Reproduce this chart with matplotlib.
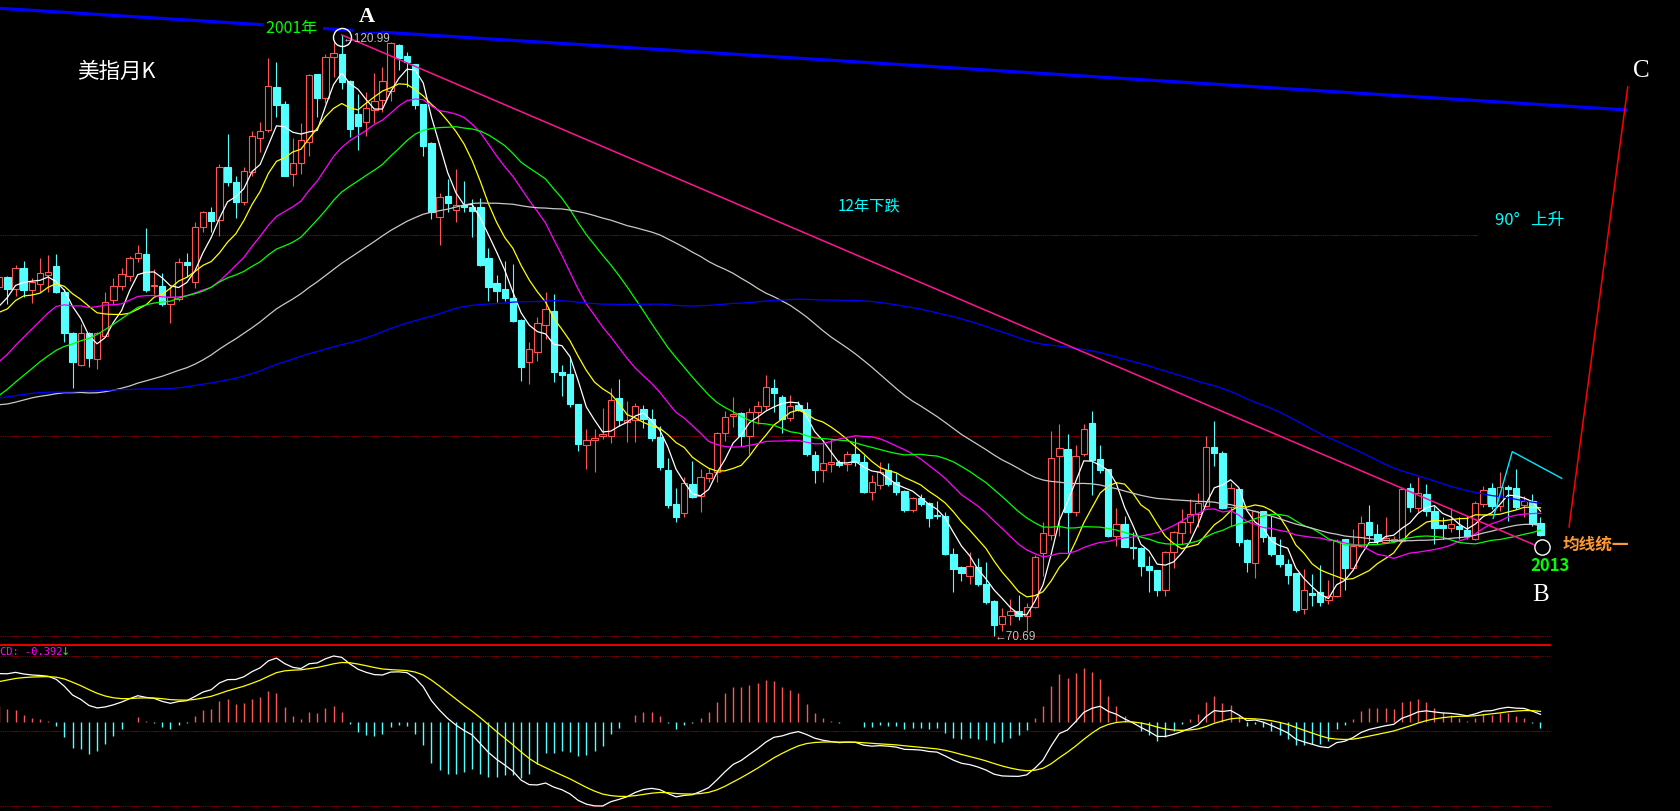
import numpy as np
import pandas as pd
import matplotlib
matplotlib.use("Agg")
import matplotlib.pyplot as plt
from matplotlib.transforms import blended_transform_factory

W, H = 1681, 812

# ---- data -------------------------------------------------------------
# monthly closes before the visible window (warm-up for MA / MACD), 1988-1997
pre_close = [
    90.5, 89.6, 88.2, 88.0, 89.7, 93.5, 97.6, 97.9, 96.0, 92.6, 89.4, 92.1,
    94.0, 93.2, 96.1, 96.8, 101.5, 100.2, 96.4, 99.8, 97.5, 95.8, 94.6, 91.9,
    92.0, 92.3, 94.6, 93.5, 92.6, 91.7, 87.8, 87.5, 86.9, 82.6, 82.4, 83.9,
    81.7, 84.8, 92.4, 93.6, 94.4, 97.2, 95.3, 93.7, 89.9, 89.6, 86.2, 84.2,
    88.2, 90.6, 92.8, 91.3, 88.1, 85.0, 81.3, 79.3, 81.6, 88.4, 93.5, 93.9,
    94.2, 96.0, 92.4, 88.9, 89.6, 93.2, 95.4, 92.0, 90.9, 93.8, 95.0, 96.4,
    95.1, 93.2, 92.4, 91.0, 91.3, 88.1, 88.5, 88.3, 86.9, 84.5, 87.2, 88.6,
    87.0, 84.6, 80.6, 80.8, 82.2, 81.9, 82.1, 84.6, 83.5, 82.9, 83.3, 83.8,
    86.2, 85.4, 86.3, 87.5, 88.2, 88.0, 86.2, 86.0, 86.9, 87.4, 87.6, 88.6,
    93.4, 95.6, 95.8, 96.9, 94.5, 95.8, 99.6, 99.5, 96.2, 96.4, 98.4, 99.8,
]

opens = [
    99.90, 100.74, 99.73, 101.49, 99.67, 100.15, 100.90, 101.66, 99.48, 96.05,
    93.37, 96.05, 93.87, 95.80, 98.81, 99.98, 100.82, 102.33, 102.66, 99.96,
    99.98, 98.47, 98.90, 102.00, 100.32, 104.92, 106.18, 105.50, 109.94, 108.69,
    107.00, 109.52, 112.37, 113.04, 116.64, 115.21, 109.36, 110.28, 112.00, 117.72,
    115.69, 119.12, 119.40, 117.16, 114.38, 113.68, 114.71, 115.57, 116.33, 120.18,
    119.26, 118.56, 115.21, 111.95, 105.73, 107.54, 106.37, 106.79, 106.57, 106.57,
    102.33, 100.23, 99.73, 98.95, 97.16, 93.65, 94.43, 96.75, 97.87, 92.76,
    92.63, 90.11, 86.68, 87.07, 87.43, 87.46, 90.64, 88.58, 88.80, 89.70,
    88.86, 87.32, 84.55, 81.74, 80.96, 83.41, 82.44, 83.92, 84.39, 87.68,
    89.08, 89.36, 87.46, 89.41, 89.97, 91.45, 90.67, 88.91, 90.03, 89.69,
    85.84, 84.55, 85.06, 85.23, 85.09, 85.92, 85.23, 82.77, 83.36, 84.61,
    83.56, 82.85, 81.24, 82.24, 81.80, 80.85, 80.76, 77.56, 76.44, 75.74,
    76.44, 75.05, 73.65, 71.70, 72.46, 72.76, 72.35, 73.10, 77.61, 79.15,
    85.73, 86.34, 81.05, 85.92, 88.52, 85.51, 84.67, 79.04, 80.07, 78.12,
    78.04, 76.53, 76.22, 74.57, 77.75, 79.32, 80.21, 80.91, 81.55, 86.54,
    86.01, 81.46, 82.99, 78.74, 76.78, 81.13, 78.96, 77.47, 76.72, 75.97,
    72.95, 74.29, 74.40, 73.73, 74.02, 78.81, 76.36, 78.25, 80.21, 79.24,
    78.59, 78.67, 78.67, 83.08, 81.41, 82.58, 81.18, 79.98, 79.73, 79.93,
    79.57, 78.81, 81.74, 83.05, 81.60, 83.14, 83.05, 81.69, 82.02, 80.15,
]
highs = [
    100.90, 100.85, 101.70, 102.10, 100.65, 102.30, 102.60, 102.66, 99.73, 96.13,
    96.80, 96.13, 96.13, 99.48, 100.65, 101.49, 102.50, 103.41, 104.84, 101.40,
    101.07, 99.98, 102.33, 102.74, 105.34, 106.26, 106.59, 110.19, 112.70, 109.19,
    109.94, 112.95, 113.70, 119.06, 118.70, 115.46, 112.34, 113.60, 117.70, 117.75,
    119.40, 120.38, 120.99, 117.20, 116.05, 116.19, 117.80, 118.28, 120.43, 120.20,
    119.59, 118.60, 115.25, 112.00, 107.74, 108.94, 109.77, 108.80, 107.26, 107.32,
    103.14, 100.90, 102.10, 101.82, 97.20, 95.27, 97.36, 99.46, 99.31, 93.37,
    94.00, 90.15, 88.02, 88.02, 89.75, 91.42, 92.20, 90.39, 90.20, 90.03,
    89.69, 88.29, 85.56, 83.05, 83.97, 85.36, 84.67, 84.73, 87.79, 89.50,
    90.67, 89.40, 89.75, 90.39, 92.56, 92.20, 90.86, 90.86, 90.39, 90.30,
    86.20, 86.90, 87.18, 85.42, 86.20, 87.24, 85.84, 84.17, 85.23, 85.17,
    84.34, 82.90, 82.30, 82.58, 81.88, 82.02, 81.05, 78.03, 76.53, 77.75,
    77.20, 76.91, 73.70, 73.01, 73.79, 74.13, 73.46, 77.47, 80.21, 87.87,
    88.44, 87.60, 86.68, 88.44, 89.55, 86.70, 84.70, 81.38, 80.76, 79.37,
    78.12, 77.41, 76.24, 77.83, 79.46, 81.32, 82.16, 82.66, 87.40, 88.66,
    86.20, 83.50, 83.05, 78.78, 81.26, 81.15, 80.76, 78.81, 77.14, 76.00,
    76.30, 75.88, 76.64, 75.38, 78.81, 78.85, 79.65, 80.71, 81.66, 80.07,
    80.63, 79.09, 83.14, 83.50, 83.97, 83.41, 81.55, 80.63, 81.38, 80.63,
    80.71, 82.02, 83.27, 83.47, 84.44, 83.33, 84.67, 82.44, 82.58, 80.63,
]
lows = [
    99.70, 98.47, 99.17, 99.06, 98.56, 99.50, 99.50, 99.40, 95.30, 91.45,
    93.30, 93.20, 93.04, 95.80, 98.39, 99.65, 100.40, 102.00, 99.48, 99.30,
    98.31, 96.90, 98.73, 100.74, 99.82, 104.50, 104.50, 104.17, 108.35, 105.67,
    106.76, 109.20, 111.20, 112.87, 114.13, 109.16, 108.33, 109.36, 110.90, 114.10,
    115.27, 117.45, 116.47, 112.43, 111.40, 112.51, 113.62, 114.52, 115.49, 118.08,
    116.61, 114.80, 110.84, 105.59, 103.44, 106.15, 105.36, 106.18, 104.06, 101.68,
    98.75, 98.62, 98.75, 97.00, 92.06, 91.78, 93.73, 95.55, 91.97, 90.80,
    89.83, 86.20, 84.67, 84.44, 87.18, 86.85, 88.29, 86.90, 86.90, 88.08,
    87.04, 84.61, 81.38, 80.26, 80.63, 82.22, 81.10, 83.56, 83.61, 87.04,
    88.16, 86.57, 85.92, 88.44, 89.63, 89.41, 87.68, 88.71, 89.55, 85.73,
    83.47, 83.61, 84.39, 84.81, 84.53, 84.95, 82.66, 82.10, 82.99, 83.22,
    82.52, 81.10, 81.10, 81.60, 79.79, 80.50, 77.50, 74.35, 75.32, 75.05,
    74.85, 73.37, 70.69, 71.14, 71.61, 72.06, 71.14, 73.01, 75.74, 78.75,
    79.09, 77.64, 80.71, 85.73, 82.52, 84.34, 78.95, 78.20, 78.14, 77.14,
    75.69, 74.35, 74.02, 74.07, 76.39, 78.39, 79.32, 79.79, 81.46, 84.90,
    81.32, 79.93, 78.25, 76.03, 75.52, 78.59, 77.41, 76.44, 75.05, 72.68,
    72.54, 73.23, 73.23, 73.37, 74.00, 74.57, 76.24, 78.12, 78.67, 78.39,
    78.48, 78.54, 78.54, 81.10, 81.05, 80.76, 78.39, 78.81, 79.37, 78.81,
    78.81, 78.75, 81.46, 81.32, 81.18, 80.34, 81.32, 80.63, 79.87, 79.04,
]
closes = [
    100.74, 99.73, 101.49, 99.65, 100.34, 101.07, 101.15, 99.48, 96.05, 93.62,
    96.05, 93.96, 96.05, 98.64, 99.98, 100.99, 102.33, 102.74, 99.65, 100.09,
    98.47, 99.06, 102.00, 101.74, 104.92, 106.18, 105.42, 109.94, 108.69, 107.00,
    109.60, 112.54, 112.95, 116.72, 115.13, 109.19, 110.25, 112.20, 117.64, 115.72,
    119.17, 119.46, 117.08, 113.12, 113.40, 114.85, 115.49, 117.11, 120.29, 119.04,
    118.70, 115.15, 111.67, 106.15, 107.41, 106.93, 106.79, 106.57, 106.29, 101.77,
    99.87, 99.59, 98.98, 97.08, 93.18, 94.71, 96.86, 98.06, 92.76, 92.56,
    90.11, 86.76, 87.10, 87.30, 87.57, 90.47, 88.80, 88.78, 89.92, 88.86,
    87.24, 84.81, 81.66, 80.68, 83.47, 82.35, 83.97, 84.34, 87.66, 88.99,
    89.27, 87.40, 89.41, 89.97, 91.50, 91.03, 88.86, 89.97, 89.63, 85.92,
    84.61, 85.15, 85.23, 85.00, 85.92, 85.23, 82.77, 83.61, 84.44, 83.41,
    82.77, 81.24, 82.24, 81.74, 80.57, 80.71, 77.56, 76.30, 75.97, 76.53,
    75.05, 73.56, 71.61, 72.40, 72.76, 72.35, 73.15, 77.33, 79.30, 85.56,
    86.40, 81.05, 85.73, 88.02, 85.42, 84.61, 79.04, 80.07, 78.17, 78.04,
    76.53, 76.24, 74.57, 77.75, 79.37, 80.21, 80.91, 81.82, 86.54, 86.01,
    81.41, 83.05, 78.59, 76.91, 81.18, 78.96, 77.56, 76.72, 75.80, 72.90,
    74.54, 74.13, 73.56, 74.02, 78.67, 76.36, 78.25, 80.15, 79.15, 78.67,
    78.88, 78.81, 83.00, 81.46, 82.66, 81.18, 79.73, 79.73, 80.07, 79.65,
    79.04, 81.82, 82.91, 81.55, 83.14, 83.00, 81.52, 81.97, 80.07, 79.15,
]

ma_periods = [5, 10, 20, 30, 60, 120]
ma_colors = ["#ffffff", "#ffff00", "#ff00ff", "#00ff00", "#c8c8c8", "#0000ff"]

peak_idx, peak_val = 42, 120.99          # A
trough_idx, trough_val = 122, 70.69      # low
b_point = (189.2, 78.17)                 # B
ab_end = (188.5, 78.25)
blue_line_x, blue_line_y = [0.1, 199.7], [123.22, 114.71]
red_line_x, red_line_y = [192.5, 199.7], [79.82, 116.64]
cyan_line_x, cyan_line_y = [183.2, 185.54, 191.6], [80.54, 86.12, 83.89]
macd_label = "CD: -0.392"

# ---- derived -----------------------------------------------------------
n = len(closes)
npre = len(pre_close)
idx = np.arange(n)
allc = pd.Series(pre_close + closes, dtype=float)
mas = [allc.rolling(p, min_periods=1).mean().values[npre:] for p in ma_periods]
ema12 = allc.ewm(span=12, adjust=False).mean()
ema26 = allc.ewm(span=26, adjust=False).mean()
dif = (ema12 - ema26).values
dea = pd.Series(dif).ewm(span=9, adjust=False).mean().values
hist = 2 * (dif - dea)
dif, dea, hist = dif[npre:], dea[npre:], hist[npre:]

o = np.array(opens); h = np.array(highs); l = np.array(lows); c = np.array(closes)
up = c >= o

# ---- geometry ----------------------------------------------------------
X0, XS = -0.8, 8.155            # px position of candle 0, px per candle
PY0, PYS = 124.0, 11.95          # price at fig top, px per price unit
MAIN_BOT = 644
xlim = ((0 - X0) / XS, (W - X0) / XS)
x_end = n + 0.2

RED = "#ff5454"
CYAN = "#54ffff"
GRID = "#8a0000"
CJK = ["Noto Sans CJK SC", "DejaVu Sans"]

fig = plt.figure(figsize=(W / 100, H / 100), dpi=100, facecolor="black")
ax = fig.add_axes([0, 1 - MAIN_BOT / H, 1, MAIN_BOT / H])
ax2 = fig.add_axes([0, 0, 1, (H - 645) / H])
for a in (ax, ax2):
    a.set_facecolor("black")
    a.set_xlim(*xlim)
    a.axis("off")
ax.set_ylim(PY0 - MAIN_BOT / PYS, PY0)

# grid lines (thirds of the price range)
lo, hi = trough_val, peak_val
levels = [lo + k * (hi - lo) / 3 for k in range(3)]
ax.hlines(levels, xlim[0], x_end, colors=GRID, linestyles=(0, (1, 1)), lw=0.8, zorder=0)

# candles
ax.vlines(idx[up], l[up], h[up], colors=RED, lw=0.8, zorder=2)
ax.vlines(idx[~up], l[~up], h[~up], colors=CYAN, lw=0.8, zorder=2)
ax.bar(idx[up], c[up] - o[up], bottom=o[up], width=0.78, facecolor="black",
       edgecolor=RED, linewidth=0.8, zorder=3)
ax.bar(idx[~up], o[~up] - c[~up], bottom=c[~up], width=0.78, facecolor=CYAN,
       edgecolor=CYAN, linewidth=0.8, zorder=3)

# moving averages
for m, col in zip(mas, ma_colors):
    ax.plot(idx, m, color=col, lw=0.9, zorder=4)

# drawn lines
ax.plot(blue_line_x, blue_line_y, color="#0000ff", lw=2.3, zorder=5, solid_capstyle="butt")
ax.plot([peak_idx, ab_end[0]], [peak_val, ab_end[1]], color="#ff1493", lw=1.1, zorder=5)
ax.plot(red_line_x, red_line_y, color="#ff0000", lw=1.1, zorder=5)
ax.plot(cyan_line_x, cyan_line_y, color="#00e8ff", lw=1.0, zorder=5)
ax.plot([peak_idx], [peak_val - 0.2], "o", ms=13, mfc="none", mec="white", mew=1, zorder=6)
ax.plot([b_point[0]], [b_point[1]], "o", ms=11, mfc="black", mec="white", mew=1, zorder=6)

# price labels
ax.annotate("\u2190" + f"{peak_val:.2f}", xy=(peak_idx, peak_val), xytext=(1, -3),
            textcoords="offset pixels", ha="left", va="center", color="#c0c0c0",
            fontsize=8.5, family=["Liberation Sans", "DejaVu Sans"], zorder=7)
ax.annotate("\u2190" + f"{trough_val:.2f}", xy=(trough_idx, trough_val), xytext=(1, 0),
            textcoords="offset pixels", ha="left", va="center", color="#c0c0c0",
            fontsize=8.5, family=["Liberation Sans", "DejaVu Sans"], zorder=7)

# separator and MACD panel
tr = blended_transform_factory(ax2.transData, ax2.transAxes)
ax2.plot([xlim[0], x_end], [0.995, 0.995], color="#ff0000", lw=1.3, transform=tr)
vmax = max(dif.max(), dea.max(), hist.max())
vmin = min(dif.min(), dea.min(), hist.min())
sc = (vmax - vmin) / 150.0
ax2.set_ylim(vmin - 5 * sc, vmax + 12 * sc)
ax2.hlines([vmin, (vmin + vmax) / 2, vmax], xlim[0], x_end, colors=GRID,
           linestyles=(0, (1, 1)), lw=0.8, zorder=0)
pos = hist >= 0
ax2.vlines(idx[pos], 0, hist[pos], colors=RED, lw=1.0, zorder=2)
ax2.vlines(idx[~pos], 0, hist[~pos], colors=CYAN, lw=1.0, zorder=2)
ax2.plot(idx, dif, color="white", lw=0.9, zorder=3)
ax2.plot(idx, dea, color="#ffff00", lw=0.9, zorder=3)


def ftext(px, py, s, **kw):
    kw.setdefault("va", "center")
    return fig.text(px / W, 1 - py / H, s, **kw)


blk = dict(facecolor="black", edgecolor="none", pad=2)
ftext(77, 72, "美指月K", color="white", fontsize=15.5, family=CJK)
ftext(266, 28, "2001年 ", color="#00ff00", fontsize=11.5, family=CJK, bbox=blk, zorder=8)
ftext(367, 17, "A", color="white", fontsize=16, family="Liberation Serif",
      weight="bold", ha="center", bbox=dict(facecolor="black", edgecolor="none", pad=4), zorder=8)
ftext(838, 206, "12年下跌", color="#00ffff", fontsize=11, family=CJK)
ftext(1495, 220, "90°   上升", color="#00ffff", fontsize=12, family=CJK,
      bbox=dict(facecolor="black", edgecolor="none", pad=12), zorder=8)
ftext(1641, 71, "C", color="white", fontsize=18, family="Liberation Serif", ha="center")
ftext(1541, 595, "B", color="white", fontsize=18, family="Liberation Serif", ha="center")
ftext(1530, 566, "2013", color="#00ff00", fontsize=12, family=CJK, weight="bold")
ftext(1563, 545, "均线统一", color="#ff9933", fontsize=12, family=CJK, weight="bold")
ftext(0, 652, macd_label, color="#ff00ff", fontsize=7.5, family="DejaVu Sans Mono")
ftext(61, 652, "\u2193", color="#00ff00", fontsize=8, family="DejaVu Sans")

fig.savefig("out.png", dpi=100, facecolor="black")
